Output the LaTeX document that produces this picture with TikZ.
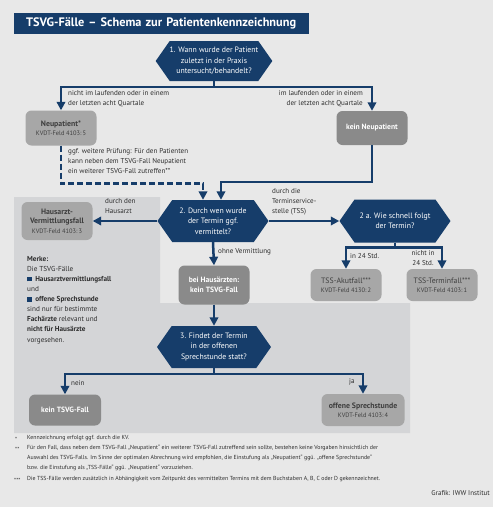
\documentclass[tikz,border=0pt]{standalone}
\usepackage{fontspec}
\setmainfont{PT Sans}
\usetikzlibrary{shapes.symbols,arrows.meta,positioning}
\definecolor{iwwblue}{RGB}{22,61,106}
\definecolor{bggray}{RGB}{232,232,232}
\definecolor{panelgray}{RGB}{212,213,215}
\definecolor{boxlight}{RGB}{167,167,167}
\definecolor{boxdark}{RGB}{138,138,138}
\definecolor{boxtext}{RGB}{62,62,62}
\definecolor{lbltext}{RGB}{45,45,45}
\newcommand{\kvdtfnt}{\fontsize{6.4}{8}\selectfont}
\newcommand{\bsq}{{\color{iwwblue}\rule{4.5pt}{4.5pt}}\enspace}

\begin{document}
\begin{tikzpicture}[x=1pt, y=-1pt, line join=miter,
  hex/.style = {signal, signal to=east and west, signal pointer angle=110, fill=iwwblue, text=white, align=center, inner sep=0pt, font=\fontsize{7.8}{10.5}\selectfont},
  box/.style = {rounded corners=6pt, fill=boxlight, text=boxtext, align=center, inner sep=1pt, minimum width=71pt, font=\fontsize{7.8}{9.5}\selectfont},
  dbox/.style = {box, fill=boxdark, text=white, font=\bfseries\fontsize{7.6}{10.5}\selectfont},
  lbl/.style = {text=lbltext, align=left, inner sep=0pt, font=\fontsize{7.1}{10.3}\selectfont},
  foot/.style = {text=lbltext, align=left, inner sep=0pt, anchor=west, font=\fontsize{5.85}{10}\selectfont},
  arr/.style = {draw=iwwblue, line width=2.5pt, -{Triangle[width=8.5pt,length=8.5pt]}}]
  \useasboundingbox (0,0) rectangle (493,507);
  \fill[bggray] (0,0) rectangle (493,507);
  \fill[panelgray] (14,197) -| (160,303) -| (410,433) -- (14,433) -- cycle;

  \node[fill=iwwblue, text=white, anchor=west, minimum height=21pt, text width=271pt, inner xsep=12pt, align=left, font=\bfseries\fontsize{12.3}{13}\selectfont] (title) at (14,23.5) {TSVG-Fälle – Schema zur Patientenkennzeichnung};

  \node[hex, minimum width=116pt, minimum height=40pt] (q1) at (214,61) {1. Wann wurde der Patient\\zuletzt in der Praxis\\untersucht/behandelt?};
  \node[box, minimum height=35pt] (neu) at (61,128) {\textbf{Neupatient*}\\{\kvdtfnt KVDT-Feld 4103:\,5}};
  \node[dbox, minimum height=34pt] (keinneu) at (372,128) {kein Neupatient};
  \node[hex, minimum width=111pt, minimum height=42pt] (q2) at (213,221) {2. Durch wen wurde\\der Termin ggf.\\vermittelt?};
  \node[hex, minimum width=111pt, minimum height=43pt] (q2a) at (395,221) {2 a. Wie schnell folgt\\der Termin?};
  \node[box, minimum height=38pt] (hvf) at (57,221) {\textbf{Hausarzt-}\\\textbf{Vermittlungsfall}\\{\kvdtfnt KVDT-Feld 4103:\,3}};
  \node[dbox, minimum height=39pt] (bhk) at (214,285) {bei Hausärzten:\\kein TSVG-Fall};
  \node[box, minimum height=32pt] (akut) at (346,285) {TSS-Akutfall***\\{\kvdtfnt KVDT-Feld 4130:\,2}};
  \node[box, minimum height=32pt] (termin) at (442,285) {TSS-Terminfall***\\{\kvdtfnt KVDT-Feld 4103:\,1}};
  \node[hex, minimum width=114pt, minimum height=42pt] (q3) at (214,347) {3. Findet der Termin\\in der offenen\\Sprechstunde statt?};
  \node[dbox, minimum height=31pt, minimum width=72pt] (kein) at (65,410) {kein TSVG-Fall};
  \node[box, minimum height=32pt, minimum width=83pt] (offen) at (363,410) {\textbf{offene Sprechstunde}\\{\kvdtfnt KVDT-Feld 4103:\,4}};

  \draw[arr] (q1.south) -- ++(0,6) -| (neu.north);
  \draw[arr] (q1.south) -- ++(0,6) -| (keinneu.north);
  \node[lbl, anchor=north west] (l1) at (68,90) {nicht im laufenden oder in einem\\der letzten acht Quartale};
  \node[lbl, anchor=north east, align=right] (l2) at (363,90) {im laufenden oder in einem\\der letzten acht Quartale};

  \draw[arr, dash pattern=on 6pt off 3pt] (neu.south) -- ++(0,38) -| ([xshift=-10pt]q2.north);
  \node[lbl, anchor=north west] (l3) at (68,148) {ggf. weitere Prüfung: Für den Patienten\\kann neben dem TSVG-Fall Neupatient\\ein weiterer TSVG-Fall zutreffen**};
  \draw[arr] (keinneu.south) -- ++(0,37) -| ([xshift=8pt]q2.north);

  \draw[arr] (q2.west) -- (hvf.east);
  \node[lbl, anchor=north west] (l4) at (105,198) {durch den\\Hausarzt};
  \draw[arr] (q2.east) -- (q2a.west);
  \node[lbl, anchor=north west] (l5) at (272,188) {durch die\\Terminservice-\\stelle (TSS)};
  \draw[arr] (q2.south) -- (bhk.north);
  \node[lbl, anchor=west] (l6) at (218,252) {ohne Vermittlung};

  \draw[arr] (q2a.south) -- ++(0,5) -| (akut.north);
  \draw[arr] (q2a.south) -- ++(0,5) -| (termin.north);
  \node[lbl, anchor=west] (l7) at (350,256) {in 24 Std.};
  \node[lbl, anchor=north, align=center] (l8) at (423,250) {nicht in\\24 Std.};

  \draw[arr] (bhk.south) -- (q3.north);
  \draw[arr] (q3.south) -- ++(0,6) -| (kein.north);
  \draw[arr] (q3.south) -- ++(0,6) -| (offen.north);
  \node[lbl, anchor=west] (l9) at (71,383) {nein};
  \node[lbl, anchor=west] (l10) at (349,382) {ja};

  \node[lbl, anchor=north west, font=\fontsize{7.2}{10.1}\selectfont] (merke) at (27,256) {\textbf{Merke:}\\Die TSVG-Fälle\\\bsq\textbf{Hausarztvermittlungsfall}\\und\\\bsq\textbf{offene Sprechstunde}\\sind nur für bestimmte\\\textbf{Fachärzte} relevant und\\\textbf{nicht für Hausärzte}\\vorgesehen.};

  \node[foot] (f1m) at (15,439) {*};
  \node[foot] (f1) at (27,438) {Kennzeichnung erfolgt ggf. durch die KV.};
  \node[foot] (f2m) at (15,449) {**};
  \node[foot, anchor=north west] (f2) at (27,445) {Für den Fall, dass neben dem TSVG-Fall „Neupatient“ ein weiterer TSVG-Fall zutreffend sein sollte, bestehen keine Vorgaben hinsichtlich der\\Auswahl des TSVG-Falls. Im Sinne der optimalen Abrechnung wird empfohlen, die Einstufung als „Neupatient“ ggü. „offene Sprechstunde“\\bzw. die Einstufung als „TSS-Fälle“ ggü. „Neupatient“ vorzuziehen.};
  \node[foot] (f3m) at (14,480) {***};
  \node[foot] (f3) at (27,479) {Die TSS-Fälle werden zusätzlich in Abhängigkeit vom Zeitpunkt des vermittelten Termins mit dem Buchstaben A, B, C oder D gekennzeichnet.};
  \node[foot, anchor=east, font=\fontsize{7}{10}\selectfont] (credit) at (490,493) {Grafik: IWW Institut};
\end{tikzpicture}
\end{document}
